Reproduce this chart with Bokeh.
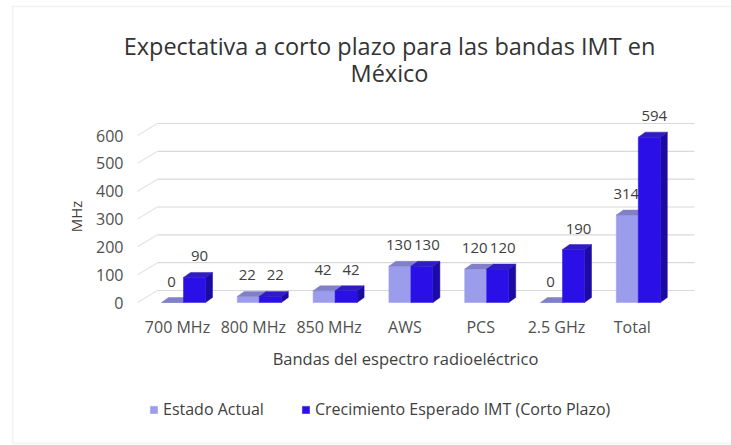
from bokeh.plotting import figure
from bokeh.models import Range1d, Label, Legend, LegendItem, FixedTicker, PolyAnnotation
from bokeh.embed import file_html
from bokeh.resources import INLINE
from bokeh.core.properties import value

# ---------------- data ----------------
categories = ["700 MHz", "800 MHz", "850 MHz", "AWS", "PCS", "2.5 GHz", "Total"]
estado_actual = [0, 22, 42, 130, 120, 0, 314]
crecimiento = [90, 22, 42, 130, 120, 190, 594]
y_ticks = [0, 100, 200, 300, 400, 500, 600]
series_names = ["Estado Actual", "Crecimiento Esperado IMT (Corto Plazo)"]
title_lines = ["Expectativa a corto plazo para las bandas IMT en", "México"]
x_title = "Bandas del espectro radioeléctrico"
y_title = "MHz"

# ---------------- layout (pixels) ----------------
W, H = 731, 445
AX_LEFT_PX, AX_BOTTOM_PX = 130, 310
CAT0_PX, CAT_STEP = 177.0, 75.8
Y0_PX, PX_PER_UNIT = 302.0, (302.0 - 135.0) / 600.0


def xd(px):
    return (px - CAT0_PX) / CAT_STEP


def yd(py):
    return (Y0_PX - py) / PX_PER_UNIT


FONT = "Open Sans"

p = figure(width=W, height=H, x_range=Range1d(xd(0), xd(W)), y_range=Range1d(yd(H), yd(0)),
           output_backend="svg", toolbar_location=None,
           min_border_left=0, min_border_right=0, min_border_top=0, min_border_bottom=0)
p.title.visible = False
p.outline_line_color = None
p.grid.visible = False
p.background_fill_color = "white"
p.border_fill_color = "white"

# ---------------- chart border ----------------
p.add_layout(PolyAnnotation(xs=[xd(12), xd(745), xd(745), xd(12)],
                            ys=[yd(6), yd(6), yd(443), yd(443)],
                            fill_alpha=0, line_color="#d4d4d4", line_width=1.5))

# ---------------- 3D style gridlines ----------------
wall_front = xd(137)
wall_dx = 20 / CAT_STEP
wall_dy = 12 / PX_PER_UNIT
grid_end = xd(694)
p.segment(x0=[wall_front] * len(y_ticks), y0=y_ticks,
          x1=[wall_front + wall_dx] * len(y_ticks), y1=[t + wall_dy for t in y_ticks],
          line_color="#e4e4e4", line_width=1.2)
p.segment(x0=[wall_front + wall_dx] * len(y_ticks), y0=[t + wall_dy for t in y_ticks],
          x1=[grid_end] * len(y_ticks), y1=[t + wall_dy for t in y_ticks],
          line_color="#d9d9d9", line_width=1.2)

# ---------------- 3D bars ----------------
BW = 22 / CAT_STEP
CO = 6 / CAT_STEP
DX = 7 / CAT_STEP
DY = 5 / PX_PER_UNIT

styles = [
    dict(front="#9c9cec", top="#8080c8", side="#7474bc", lab_dx=-1),
    dict(front="#2a10e6", top="#2f1cc2", side="#1c0ba3", lab_dx=5),
]

front_renderers = []
for s, vals in enumerate([estado_actual, crecimiento]):
    lefts = [i + CO - BW + s * BW for i in range(len(vals))]
    rights = [l + BW for l in lefts]
    st = styles[s]
    p.patches(xs=[[r, r + DX, r + DX, r] for r in rights],
              ys=[[0, DY, v + DY, v] for v in vals],
              fill_color=st["side"], line_color=st["side"], line_width=0.5)
    fr = p.quad(left=lefts, right=rights, bottom=[0] * len(vals), top=vals,
                fill_color=st["front"], line_color=st["front"], line_width=0.5)
    front_renderers.append(fr)
    p.patches(xs=[[l, r, r + DX, l + DX] for l, r in zip(lefts, rights)],
              ys=[[v, v, v + DY, v + DY] for v in vals],
              fill_color=st["top"], line_color=st["top"], line_width=0.5)
    p.text(x=[(l + r) / 2 for l, r in zip(lefts, rights)], y=vals,
           text=[str(v) for v in vals], x_offset=st["lab_dx"], y_offset=-21,
           text_align="center", text_baseline="middle",
           text_font=value(FONT), text_font_size="15px", text_color="#404040")

# ---------------- axes (fixed inside the canvas) ----------------
p.xaxis.fixed_location = yd(AX_BOTTOM_PX)
p.yaxis.fixed_location = xd(AX_LEFT_PX)
p.xaxis.ticker = FixedTicker(ticks=list(range(len(categories))))
p.xaxis.major_label_overrides = {i: c for i, c in enumerate(categories)}
p.yaxis.ticker = FixedTicker(ticks=y_ticks)
for ax in (p.xaxis, p.yaxis):
    ax.axis_line_color = None
    ax.major_tick_line_color = None
    ax.minor_tick_line_color = None
    ax.major_tick_out = 0
    ax.major_tick_in = 0
    ax.minor_tick_out = 0
    ax.minor_tick_in = 0
    ax.major_label_text_font = FONT
    ax.major_label_text_font_size = "16px"
    ax.major_label_text_color = "#505050"
p.xaxis.major_label_standoff = 5
p.yaxis.major_label_standoff = 7

# axis titles
p.add_layout(Label(x=xd(405), y=yd(358), text=x_title, text_align="center",
                   text_baseline="middle", text_font=FONT, text_font_size="16.5px",
                   text_color="#404040"))
p.add_layout(Label(x=xd(75), y=yd(216), text=y_title, text_align="center",
                   text_baseline="middle", angle=90, angle_units="deg",
                   text_font=FONT, text_font_size="15px", text_color="#404040"))

# ---------------- title ----------------
for txt, ypx in zip(title_lines, [45, 72]):
    p.add_layout(Label(x=xd(389), y=yd(ypx), text=txt, text_align="center",
                       text_baseline="middle", text_font=FONT, text_font_size="23.5px",
                       text_color="#333333"))

# ---------------- legend ----------------
legend = Legend(items=[LegendItem(label=series_names[0], renderers=[front_renderers[0]]),
                       LegendItem(label=series_names[1], renderers=[front_renderers[1]])],
                orientation="horizontal", location=(149, H - 420),
                padding=0, margin=0, spacing=37, label_standoff=5,
                glyph_width=9, glyph_height=9, border_line_color=None,
                background_fill_alpha=0, label_text_font=FONT,
                label_text_font_size="16px", label_text_color="#404040")
p.add_layout(legend)

open("out.html", "w").write(file_html(p, INLINE))
